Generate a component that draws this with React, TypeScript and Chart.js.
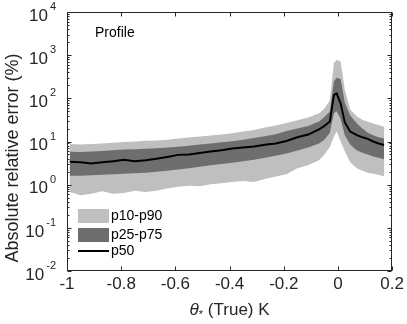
import React, { useEffect, useRef } from 'react';
import { Chart, registerables } from 'chart.js';

Chart.register(...registerables);

// ---- data ----
const xValues = [-0.99, -0.95, -0.91, -0.87, -0.83, -0.79, -0.75, -0.71, -0.67, -0.63, -0.59, -0.55, -0.51, -0.47, -0.43, -0.39, -0.35, -0.31, -0.27, -0.23, -0.19, -0.15, -0.11, -0.07, -0.05, -0.03, -0.015, -0.005, 0.01, 0.025, 0.045, 0.07, 0.09, 0.11, 0.13, 0.15, 0.17];
const p90 = [8.7, 8.5, 8.8, 9.0, 9.3, 9.8, 10.0, 10.4, 10.6, 11.0, 11.8, 12.3, 13.0, 13.8, 14.6, 15.6, 17.0, 18.5, 21, 23.5, 27, 31, 36, 45, 58, 90, 650, 780, 700, 160, 55, 38, 32, 28.5, 26, 24, 22];
const p75 = [5.8, 5.7, 5.9, 6.0, 6.3, 6.5, 6.6, 6.8, 7.0, 7.3, 7.6, 8.0, 8.5, 9.0, 9.6, 10.2, 11.0, 12.0, 13.2, 14.8, 17.5, 20, 23, 29, 37, 50, 250, 300, 280, 80, 40, 26, 20, 16, 14, 12.5, 11.8];
const p50 = [3.4, 3.3, 3.1, 3.3, 3.5, 3.8, 3.5, 3.7, 4.0, 4.4, 4.9, 5.0, 5.4, 5.9, 6.3, 6.9, 7.3, 7.7, 8.4, 9.0, 10.3, 12.5, 14.5, 19, 23, 29, 120, 130, 75, 28, 17, 14, 12.5, 11.5, 10, 9, 8.3];
const p25 = [1.6, 1.6, 1.65, 1.7, 1.75, 1.8, 1.85, 1.9, 2.0, 2.1, 2.25, 2.4, 2.6, 2.8, 3.0, 3.2, 3.5, 3.8, 4.2, 4.7, 5.3, 6.2, 7.3, 9, 11, 16, 45, 50, 33, 14, 8.5, 6.2, 5.5, 5, 4.5, 4.2, 3.9];
const p10 = [0.68, 0.57, 0.62, 0.7, 0.62, 0.64, 0.72, 0.68, 0.72, 0.82, 0.9, 0.95, 0.92, 1.02, 1.08, 1.15, 1.22, 1.15, 1.35, 1.55, 1.75, 2.4, 2.8, 3.7, 5.0, 7.5, 13, 17, 10, 6, 3.3, 2.4, 2.1, 1.9, 1.8, 1.7, 1.55];

const xTicks = [-1, -0.8, -0.6, -0.4, -0.2, 0, 0.2];
const yExponents = [-2, -1, 0, 1, 2, 3, 4];
const legendLabels = ['p10-p90', 'p25-p75', 'p50'];
const annotationText = 'Profile';
const yTitle = 'Absolute relative error (%)';
const xTitleSymbol = 'θ';
const xTitleSub = '*';
const xTitleRest = ' (True) K';

const FONT = '"Liberation Sans", Arial, Helvetica, sans-serif';
const AXIS = '#262626';
const LIGHT = 'rgb(191,191,191)';
const DARK = 'rgb(110,110,110)';

const pts = (arr: number[]) => xValues.map((x, i) => ({ x, y: arr[i] }));

const axesPlugin = {
  id: 'matlabAxes',
  afterDatasetsDraw(chart: any) {
    const { ctx, chartArea: a, scales } = chart;
    const xs = scales.x;
    const ys = scales.y;
    ctx.save();
    ctx.strokeStyle = AXIS;
    ctx.lineWidth = 1;
    const L = Math.round(a.left) + 0.5;
    const R = Math.round(a.right) - 0.5;
    const T = Math.round(a.top) + 0.5;
    const B = Math.round(a.bottom) - 0.5;
    const seg = (x1: number, y1: number, x2: number, y2: number) => {
      ctx.beginPath();
      ctx.moveTo(x1, y1);
      ctx.lineTo(x2, y2);
      ctx.stroke();
    };
    ctx.strokeRect(L, T, R - L, B - T);
    // x ticks
    for (const t of xTicks) {
      const px = Math.round(xs.getPixelForValue(t)) + 0.5;
      seg(px, B, px, B - 4);
      seg(px, T, px, T + 4);
    }
    // y ticks
    for (const e of yExponents) {
      const py = Math.round(ys.getPixelForValue(Math.pow(10, e))) + 0.5;
      seg(L, py, L + 4, py);
      seg(R, py, R - 4, py);
      if (e < 4) {
        for (let m = 2; m <= 9; m++) {
          const my = Math.round(ys.getPixelForValue(m * Math.pow(10, e))) + 0.5;
          seg(L, my, L + 2, my);
          seg(R, my, R - 2, my);
        }
      }
    }
    // y tick labels 10^e
    ctx.fillStyle = AXIS;
    ctx.textBaseline = 'middle';
    const rightEdge = a.left - 11;
    for (const e of yExponents) {
      const py = ys.getPixelForValue(Math.pow(10, e));
      const expStr = e < 0 ? '-' + String(-e) : String(e);
      ctx.font = `11px ${FONT}`;
      const ew = ctx.measureText(expStr).width;
      ctx.textAlign = 'left';
      ctx.fillText(expStr, rightEdge - ew, py - 5);
      ctx.font = `17px ${FONT}`;
      ctx.textAlign = 'right';
      ctx.fillText('10', rightEdge - ew - 2, py + 4);
    }
    // y title
    ctx.save();
    ctx.translate(13.5, 158);
    ctx.rotate(-Math.PI / 2);
    ctx.font = `18px ${FONT}`;
    ctx.textAlign = 'center';
    ctx.textBaseline = 'middle';
    ctx.fillText(yTitle, 0, 0);
    ctx.restore();
    // x title
    ctx.textBaseline = 'middle';
    ctx.textAlign = 'left';
    ctx.font = `italic 17px ${FONT}`;
    const w1 = ctx.measureText(xTitleSymbol).width;
    ctx.font = `11px ${FONT}`;
    const w2 = ctx.measureText(xTitleSub).width;
    ctx.font = `17px ${FONT}`;
    const w3 = ctx.measureText(xTitleRest).width;
    const cx = (a.left + a.right) / 2;
    let tx = cx - (w1 + w2 + w3) / 2;
    const ty = 310;
    ctx.font = `italic 17px ${FONT}`;
    ctx.fillText(xTitleSymbol, tx, ty);
    tx += w1;
    ctx.font = `11px ${FONT}`;
    ctx.fillText(xTitleSub, tx, ty + 5);
    tx += w2;
    ctx.font = `17px ${FONT}`;
    ctx.fillText(xTitleRest, tx, ty);
    // legend
    const lx = a.left + 11;
    const lw = 31;
    ctx.fillStyle = LIGHT;
    ctx.fillRect(lx, 209, lw, 14);
    ctx.fillStyle = DARK;
    ctx.fillRect(lx, 228, lw, 14);
    ctx.strokeStyle = '#000';
    ctx.lineWidth = 2;
    seg(lx, 251, lx + lw, 251);
    ctx.fillStyle = '#000';
    ctx.font = `14px ${FONT}`;
    ctx.textAlign = 'left';
    ctx.textBaseline = 'middle';
    ctx.fillText(legendLabels[0], lx + lw + 2, 216);
    ctx.fillText(legendLabels[1], lx + lw + 2, 235);
    ctx.fillText(legendLabels[2], lx + lw + 2, 251);
    // annotation
    ctx.font = `14px ${FONT}`;
    ctx.fillText(annotationText, 95, 33);
    ctx.restore();
  },
};

export default function App() {
  const ref = useRef<HTMLCanvasElement>(null);
  useEffect(() => {
    if (!ref.current) return;
    const chart = new Chart(ref.current, {
      type: 'line',
      data: {
        datasets: [
          { label: 'p50', data: pts(p50), borderColor: '#000', borderWidth: 2, pointRadius: 0, fill: false, tension: 0 },
          { label: 'p25-p75', data: pts(p75), borderWidth: 0, borderColor: 'rgba(0,0,0,0)', backgroundColor: DARK, pointRadius: 0, fill: 2, tension: 0 },
          { label: 'p25', data: pts(p25), borderWidth: 0, borderColor: 'rgba(0,0,0,0)', pointRadius: 0, fill: false, tension: 0 },
          { label: 'p10-p90', data: pts(p90), borderWidth: 0, borderColor: 'rgba(0,0,0,0)', backgroundColor: LIGHT, pointRadius: 0, fill: 4, tension: 0 },
          { label: 'p10', data: pts(p10), borderWidth: 0, borderColor: 'rgba(0,0,0,0)', pointRadius: 0, fill: false, tension: 0 },
        ],
      },
      options: {
        responsive: false,
        animation: false,
        layout: { padding: { left: 0, right: 14, top: 12, bottom: 0 } },
        plugins: { legend: { display: false }, tooltip: { enabled: false } },
        scales: {
          x: {
            type: 'linear',
            min: -1,
            max: 0.2,
            grid: { display: false, drawTicks: false },
            border: { display: false },
            ticks: {
              stepSize: 0.2,
              autoSkip: false,
              maxRotation: 0,
              padding: 3,
              color: AXIS,
              font: { family: FONT, size: 17 },
              callback: (v: any) => String(Math.round(Number(v) * 10) / 10),
            },
            afterFit: (s: any) => { s.height = 53; },
          },
          y: {
            type: 'logarithmic',
            min: 0.01,
            max: 10000,
            grid: { display: false, drawTicks: false },
            border: { display: false },
            ticks: { display: false },
            afterFit: (s: any) => { s.width = 67; },
          },
        },
      },
      plugins: [axesPlugin],
    });
    return () => chart.destroy();
  }, []);
  return (
    <div style={{ position: 'absolute', left: 0, top: 0, width: 407, height: 324, background: '#fff' }}>
      <canvas ref={ref} width={407} height={324} />
    </div>
  );
}
